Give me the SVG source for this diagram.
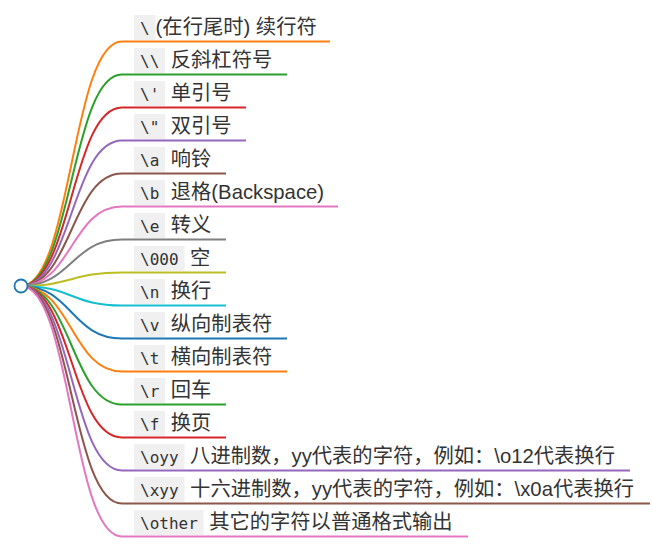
<svg xmlns="http://www.w3.org/2000/svg" width="653" height="557" viewBox="0 0 653 557">
<style>
.link{fill:none;stroke-width:2}
.ul{stroke-width:2;fill:none}
.cb{fill:#f0f0f0}
.code{font-family:"DejaVu Sans Mono","Liberation Mono",monospace;font-size:16px;fill:#333}
.t{font-family:"Liberation Sans","Noto Sans CJK SC",sans-serif;font-size:20.3px;fill:#333}
.c0{stroke:#ff7f0e}.c1{stroke:#2ca02c}.c2{stroke:#d62728}.c3{stroke:#9467bd}.c4{stroke:#8c564b}.c5{stroke:#e377c2}.c6{stroke:#7f7f7f}.c7{stroke:#bcbd22}.c8{stroke:#17becf}.c9{stroke:#1f77b4}
</style>
<rect width="653" height="557" fill="#ffffff"/>
<g id="connectors">
<path class="link c0" d="M21,286 C71.5,286 71.5,41.5 122,41.5"/>
<path class="link c1" d="M21,286 C71.5,286 71.5,74.5 122,74.5"/>
<path class="link c2" d="M21,286 C71.5,286 71.5,107.5 122,107.5"/>
<path class="link c3" d="M21,286 C71.5,286 71.5,140.5 122,140.5"/>
<path class="link c4" d="M21,286 C71.5,286 71.5,173.5 122,173.5"/>
<path class="link c5" d="M21,286 C71.5,286 71.5,206.5 122,206.5"/>
<path class="link c6" d="M21,286 C71.5,286 71.5,239.5 122,239.5"/>
<path class="link c7" d="M21,286 C71.5,286 71.5,272.5 122,272.5"/>
<path class="link c8" d="M21,286 C71.5,286 71.5,305.5 122,305.5"/>
<path class="link c9" d="M21,286 C71.5,286 71.5,338.5 122,338.5"/>
<path class="link c0" d="M21,286 C71.5,286 71.5,371.5 122,371.5"/>
<path class="link c1" d="M21,286 C71.5,286 71.5,404.5 122,404.5"/>
<path class="link c2" d="M21,286 C71.5,286 71.5,437.5 122,437.5"/>
<path class="link c3" d="M21,286 C71.5,286 71.5,470.5 122,470.5"/>
<path class="link c4" d="M21,286 C71.5,286 71.5,503.5 122,503.5"/>
<path class="link c5" d="M21,286 C71.5,286 71.5,536.5 122,536.5"/>
</g>
<g id="n0"><line class="ul c0" x1="122" y1="41.5" x2="330" y2="41.5"/><rect class="cb" x="134" y="15" width="21.6" height="25"/><text class="code" x="140" y="34">\</text><text class="t" x="155.6" y="34">(在行尾时) 续行符</text></g>
<g id="n1"><line class="ul c1" x1="122" y1="74.5" x2="287" y2="74.5"/><rect class="cb" x="134" y="48" width="31.2" height="25"/><text class="code" x="140" y="67">\\</text><text class="t" x="170.8" y="67">反斜杠符号</text></g>
<g id="n2"><line class="ul c2" x1="122" y1="107.5" x2="246" y2="107.5"/><rect class="cb" x="134" y="81" width="31.2" height="25"/><text class="code" x="140" y="100">\'</text><text class="t" x="170.8" y="100">单引号</text></g>
<g id="n3"><line class="ul c3" x1="122" y1="140.5" x2="246" y2="140.5"/><rect class="cb" x="134" y="114" width="31.2" height="25"/><text class="code" x="140" y="133">\"</text><text class="t" x="170.8" y="133">双引号</text></g>
<g id="n4"><line class="ul c4" x1="122" y1="173.5" x2="226" y2="173.5"/><rect class="cb" x="134" y="147" width="31.2" height="25"/><text class="code" x="140" y="166">\a</text><text class="t" x="170.8" y="166">响铃</text></g>
<g id="n5"><line class="ul c5" x1="122" y1="206.5" x2="338" y2="206.5"/><rect class="cb" x="134" y="180" width="31.2" height="25"/><text class="code" x="140" y="199">\b</text><text class="t" x="170.8" y="199">退格(Backspace)</text></g>
<g id="n6"><line class="ul c6" x1="122" y1="239.5" x2="226" y2="239.5"/><rect class="cb" x="134" y="213" width="31.2" height="25"/><text class="code" x="140" y="232">\e</text><text class="t" x="170.8" y="232">转义</text></g>
<g id="n7"><line class="ul c7" x1="122" y1="272.5" x2="226" y2="272.5"/><rect class="cb" x="134" y="246" width="50.5" height="25"/><text class="code" x="140" y="265">\000</text><text class="t" x="190.1" y="265">空</text></g>
<g id="n8"><line class="ul c8" x1="122" y1="305.5" x2="226" y2="305.5"/><rect class="cb" x="134" y="279" width="31.2" height="25"/><text class="code" x="140" y="298">\n</text><text class="t" x="170.8" y="298">换行</text></g>
<g id="n9"><line class="ul c9" x1="122" y1="338.5" x2="287" y2="338.5"/><rect class="cb" x="134" y="312" width="31.2" height="25"/><text class="code" x="140" y="331">\v</text><text class="t" x="170.8" y="331">纵向制表符</text></g>
<g id="n10"><line class="ul c0" x1="122" y1="371.5" x2="287" y2="371.5"/><rect class="cb" x="134" y="345" width="31.2" height="25"/><text class="code" x="140" y="364">\t</text><text class="t" x="170.8" y="364">横向制表符</text></g>
<g id="n11"><line class="ul c1" x1="122" y1="404.5" x2="226" y2="404.5"/><rect class="cb" x="134" y="378" width="31.2" height="25"/><text class="code" x="140" y="397">\r</text><text class="t" x="170.8" y="397">回车</text></g>
<g id="n12"><line class="ul c2" x1="122" y1="437.5" x2="226" y2="437.5"/><rect class="cb" x="134" y="411" width="31.2" height="25"/><text class="code" x="140" y="430">\f</text><text class="t" x="170.8" y="430">换页</text></g>
<g id="n13"><line class="ul c3" x1="122" y1="470.5" x2="630" y2="470.5"/><rect class="cb" x="134" y="444" width="50.5" height="25"/><text class="code" x="140" y="463">\oyy</text><text class="t" x="190.1" y="463">八进制数，yy代表的字符，例如：\o12代表换行</text></g>
<g id="n14"><line class="ul c4" x1="122" y1="503.5" x2="650" y2="503.5"/><rect class="cb" x="134" y="477" width="50.5" height="25"/><text class="code" x="140" y="496">\xyy</text><text class="t" x="190.1" y="496">十六进制数，yy代表的字符，例如：\x0a代表换行</text></g>
<g id="n15"><line class="ul c5" x1="122" y1="536.5" x2="468" y2="536.5"/><rect class="cb" x="134" y="510" width="69.6" height="25"/><text class="code" x="140" y="529">\other</text><text class="t" x="209.2" y="529">其它的字符以普通格式输出</text></g>
<g id="root"><circle cx="21" cy="286" r="6.5" fill="#ffffff" stroke="#1f77b4" stroke-width="1.8"/></g>
</svg>
